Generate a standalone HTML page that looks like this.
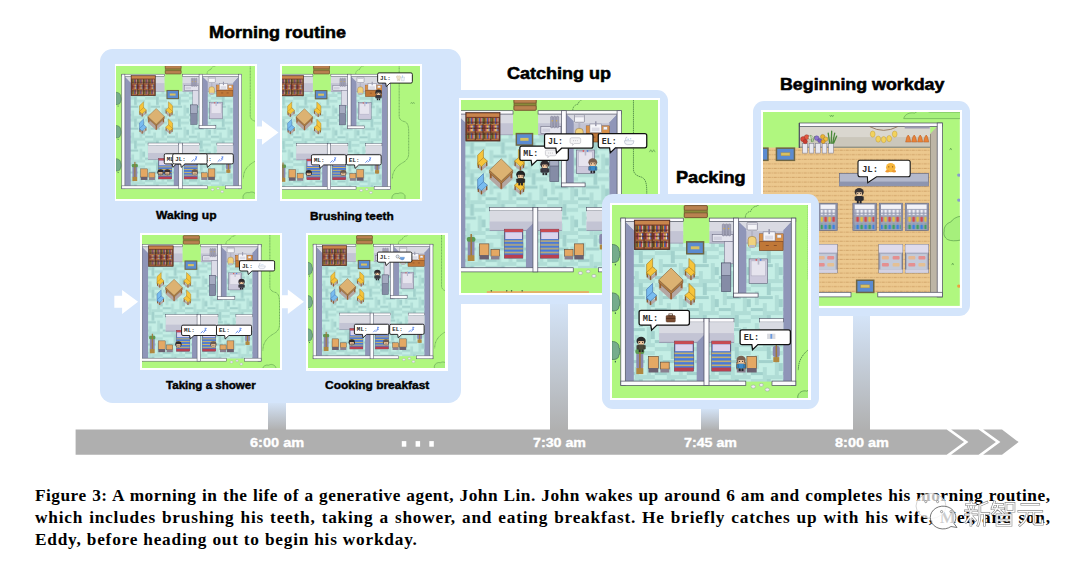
<!DOCTYPE html>
<html><head><meta charset="utf-8"><title>Figure 3</title><style>
*{margin:0;padding:0;box-sizing:border-box}
html,body{width:1080px;height:561px;overflow:hidden;background:#fff}
body{position:relative;font-family:"Liberation Sans",sans-serif}
.ab{position:absolute}
.panel{position:absolute;background:#d4e5fb;border-radius:12px}
.mw{position:absolute;background:#fff}
.mp{position:absolute;display:block}
.t{position:absolute;font-weight:bold;color:#000;white-space:nowrap;line-height:1;transform-origin:0 0;-webkit-text-stroke:0.55px #000}
.s{-webkit-text-stroke:0.4px #000}
.tl{position:absolute;font-weight:bold;color:#fff;white-space:nowrap;line-height:1;font-size:13.5px;transform-origin:0 0;-webkit-text-stroke:0.35px #fff}
.con{position:absolute;background:linear-gradient(#d4e4f8,#b0b0b0)}
.cap{position:absolute;left:35px;width:1015px;font-family:"Liberation Serif",serif;font-weight:bold;font-size:17.3px;letter-spacing:0.78px;line-height:1;white-space:nowrap;color:#000}
.j{text-align:justify;text-align-last:justify;white-space:normal}
</style></head>
<body>
<svg width="0" height="0" style="position:absolute">
<defs>
<pattern id="fl" width="32" height="32" patternUnits="userSpaceOnUse" x="2" y="1">
<rect width="32" height="32" fill="#c4eee5"/>
<rect x="0" y="0" width="16" height="4" fill="#b0ddd6"/>
<rect x="16" y="0" width="4" height="12" fill="#a2d1cc"/>
<rect x="20" y="4" width="12" height="4" fill="#b0ddd6"/>
<rect x="4" y="8" width="4" height="14" fill="#b0ddd6"/>
<rect x="8" y="13" width="14" height="3" fill="#a2d1cc"/>
<rect x="24" y="12" width="4" height="16" fill="#b0ddd6"/>
<rect x="0" y="25" width="12" height="3" fill="#a2d1cc"/>
<rect x="12" y="20" width="4" height="12" fill="#b0ddd6"/>
<rect x="16" y="28" width="16" height="4" fill="#b0ddd6"/>
<rect x="28" y="16" width="4" height="8" fill="#a2d1cc"/>
</pattern>
<pattern id="bk" width="8.3" height="6" patternUnits="userSpaceOnUse">
<rect width="8.3" height="6" fill="#5a2c22"/>
<rect x="0.6" y="0.6" width="1.3" height="5" fill="#e0a030"/>
<rect x="2" y="0.6" width="1.3" height="5" fill="#3a62c8"/>
<rect x="3.4" y="1.2" width="1.3" height="4.4" fill="#d04848"/>
<rect x="4.8" y="0.6" width="1.3" height="5" fill="#e8d8c0"/>
<rect x="6.2" y="1" width="1.3" height="4.6" fill="#6aa848"/>
</pattern>
<pattern id="bk2" width="8.3" height="6" patternUnits="userSpaceOnUse">
<rect width="8.3" height="6" fill="#5a2c22"/>
<rect x="0.6" y="0.6" width="1.3" height="5" fill="#e0709a"/>
<rect x="2" y="1" width="1.3" height="4.6" fill="#f0c040"/>
<rect x="3.4" y="0.6" width="1.3" height="5" fill="#f0e0d0"/>
<rect x="4.8" y="1.2" width="1.3" height="4.4" fill="#3a62c8"/>
<rect x="6.2" y="0.6" width="1.3" height="5" fill="#d06030"/>
</pattern>
<pattern id="bs" width="19" height="4" patternUnits="userSpaceOnUse">
<rect width="19" height="4" fill="#4a7ad8"/>
<rect y="2.6" width="19" height="1.2" fill="#e8c050"/>
</pattern>
<pattern id="wd" width="6" height="4.55" patternUnits="userSpaceOnUse" x="0" y="0.5">
<rect width="6" height="4.55" fill="#ecc88e"/>
<rect y="3.5" width="3.2" height="1" fill="#d2a56a"/>
<rect x="4" y="3.5" width="1.2" height="1" fill="#d2a56a"/>
</pattern>
<pattern id="sh0" width="4" height="5.2" patternUnits="userSpaceOnUse">
<rect width="4" height="5.2" fill="#9ca0b6"/>
<rect x="0.6" y="0.6" width="2.6" height="4.2" rx="1" fill="#eeeef4"/>
</pattern>
<pattern id="sh" width="8" height="6" patternUnits="userSpaceOnUse">
<rect width="8" height="6" fill="#9ca0b6"/>
<rect x="0.6" y="0.8" width="2.6" height="5" rx="0.8" fill="#d84848"/>
<rect x="4.6" y="0.8" width="2.6" height="5" rx="0.8" fill="#e2c040"/>
</pattern>
<pattern id="sh2" width="8" height="5.6" patternUnits="userSpaceOnUse">
<rect width="8" height="5.6" fill="#9ca0b6"/>
<rect x="0.6" y="0.8" width="2.6" height="4.6" rx="0.8" fill="#3a80e0"/>
<rect x="4.6" y="0.8" width="2.6" height="4.6" rx="0.8" fill="#40a060"/>
</pattern>
<g id="outside"><path d="M-9,26.299999999999997 C-4,26.299999999999997 -1.5,29.299999999999997 -1.8,32.3 C-0.5,34.3 -0.5,38.3 -2,40.3 C-2,43.3 -5,44.8 -9,44.3Z" fill="#76ac8c" stroke="#3d6a50" stroke-width="0.7"/>
<rect x="-6" y="45.8" width="1.2" height="1.5" fill="#3d6a50"/>
<path d="M-9,74.8 C-4,74.8 -1.5,77.8 -1.8,80.8 C-0.5,82.8 -0.5,86.8 -2,88.8 C-2,91.8 -5,93.3 -9,92.8Z" fill="#76ac8c" stroke="#3d6a50" stroke-width="0.7"/>
<rect x="-6" y="94.3" width="1.2" height="1.5" fill="#3d6a50"/>
<path d="M-9,123.30000000000001 C-4,123.30000000000001 -1.5,126.30000000000001 -1.8,129.3 C-0.5,131.3 -0.5,135.3 -2,137.3 C-2,140.3 -5,141.8 -9,141.3Z" fill="#76ac8c" stroke="#3d6a50" stroke-width="0.7"/>
<rect x="-6" y="142.8" width="1.2" height="1.5" fill="#3d6a50"/>
<path d="M187.5,-20 L187.5,61 C187.5,66 192,68 196,69 C200.5,71 201.3,76 201.3,85 L201.3,115 C201.3,122 197,126 193,128 C188,131 184,134 181,139 C178.5,143 177.8,146 177.5,152" fill="none" stroke="#4f8a48" stroke-width="0.9" stroke-dasharray="1.6,0.6"/>
<path d="M177,178 C178,174 182,172 186,173 C189,171 194,172 196,176 L196,190 L177,190Z" fill="#a6f07c" stroke="#4f8a48" stroke-width="0.7"/>
<path d="M-9,190 L-4,183 L1,190Z" fill="#a6f07c" stroke="#4f8a48" stroke-width="0.6"/>
<path d="M204,43 l1.5,-2.5 l1.5,2.5 M207,43 l1.5,-2.5 l1.5,2.5" fill="none" stroke="#4f8a48" stroke-width="0.6"/>
<path d="M124.5,-0.5 C124.5,-4 127,-6.5 130,-6.8 C130.8,-10 133.5,-12 136.5,-12 C138,-14 141,-15 144,-14.8 L144,-30" fill="none" stroke="#4f8a48" stroke-width="0.8" stroke-dasharray="1.4,0.6"/></g>
<g id="house"><rect x="4.5" y="3.5" width="166" height="160" fill="url(#fl)"/>
<rect x="4.5" y="3.5" width="58.0" height="21.5" fill="#d9dae2"/>
<rect x="4.5" y="13" width="58.0" height="12" fill="#c3c4d4"/>
<rect x="4.5" y="24.6" width="58.0" height="0.8" fill="#9a9cb2"/>
<rect x="88.5" y="3.5" width="24.299999999999997" height="21.5" fill="#d9dae2"/>
<rect x="88.5" y="13" width="24.299999999999997" height="12" fill="#c3c4d4"/>
<rect x="88.5" y="24.6" width="24.299999999999997" height="0.8" fill="#9a9cb2"/>
<rect x="117.7" y="3.5" width="52.8" height="21.5" fill="#d9dae2"/>
<rect x="117.7" y="13" width="52.8" height="12" fill="#c3c4d4"/>
<rect x="117.7" y="24.6" width="52.8" height="0.8" fill="#9a9cb2"/>
<rect x="62.5" y="-1" width="26" height="26" fill="#b0f77f"/>
<rect x="63.5" y="-12.5" width="23" height="12" rx="1" fill="#8a8a3a" stroke="#6a4a2a" stroke-width="0.7"/>
<rect x="63.5" y="-12.5" width="23" height="4.6" rx="1" fill="#b98250" stroke="#6a4a2a" stroke-width="0.6"/>
<rect x="63.5" y="-5.2" width="23" height="4.7" rx="1" fill="#b98250" stroke="#6a4a2a" stroke-width="0.6"/>
<rect x="65.2" y="23" width="18.3" height="13.4" fill="#6d6544"/>
<rect x="66.7" y="24.5" width="15.3" height="10.4" fill="#5b8bd0"/>
<rect x="70" y="28.2" width="8.6" height="3" fill="#d8c060"/>
<polygon points="4.5,3.5 13,12 13,163 4.5,163" fill="#8f95b8"/>
<polygon points="4.5,3.5 13,3.5 13,12" fill="#d9dae2"/>
<polygon points="170.5,3.5 162.5,12 162.5,163 170.5,163" fill="#8f95b8"/>
<polygon points="170.5,3.5 162.5,3.5 162.5,12" fill="#d9dae2"/>
<polygon points="117.7,3.5 125.5,11 125.5,75 117.7,75" fill="#8f95b8"/>
<rect x="38.3" y="100.5" width="44.900000000000006" height="3.5" fill="#fbfbfd" stroke="#4a4a5e" stroke-width="0.6"/>
<rect x="38.3" y="104" width="44.900000000000006" height="20.3" fill="#d9dae2"/>
<rect x="38.3" y="115" width="44.900000000000006" height="9.3" fill="#c3c4d4"/>
<rect x="38.3" y="123.8" width="44.900000000000006" height="0.8" fill="#8a8ca4"/>
<rect x="88.2" y="100.5" width="25.0" height="3.5" fill="#fbfbfd" stroke="#4a4a5e" stroke-width="0.6"/>
<rect x="88.2" y="104" width="25.0" height="20.3" fill="#d9dae2"/>
<rect x="88.2" y="115" width="25.0" height="9.3" fill="#c3c4d4"/>
<rect x="88.2" y="123.8" width="25.0" height="0.8" fill="#8a8ca4"/>
<rect x="138.8" y="100.5" width="23.69999999999999" height="3.5" fill="#fbfbfd" stroke="#4a4a5e" stroke-width="0.6"/>
<rect x="138.8" y="104" width="23.69999999999999" height="20.3" fill="#d9dae2"/>
<rect x="138.8" y="115" width="23.69999999999999" height="9.3" fill="#c3c4d4"/>
<rect x="138.8" y="123.8" width="23.69999999999999" height="0.8" fill="#8a8ca4"/>
<polygon points="75.9,124.3 83.2,117 83.2,163 75.9,163" fill="#8f95b8"/>
<rect x="0" y="0" width="62.5" height="3.5" fill="#fbfbfd" stroke="#4a4a5e" stroke-width="0.7"/>
<rect x="88.5" y="0" width="86.5" height="3.5" fill="#fbfbfd" stroke="#4a4a5e" stroke-width="0.7"/>
<rect x="0" y="0" width="4.5" height="167.3" fill="#fbfbfd" stroke="#4a4a5e" stroke-width="0.7"/>
<rect x="170.5" y="0" width="4.5" height="167.3" fill="#fbfbfd" stroke="#4a4a5e" stroke-width="0.7"/>
<rect x="0" y="163" width="125" height="4.3" fill="#fbfbfd" stroke="#4a4a5e" stroke-width="0.7"/>
<rect x="151.2" y="163" width="23.8" height="4.3" fill="#fbfbfd" stroke="#4a4a5e" stroke-width="0.7"/>
<rect x="112.8" y="0" width="4.9" height="79" fill="#fbfbfd" stroke="#4a4a5e" stroke-width="0.7"/>
<rect x="112.8" y="75" width="24.5" height="4" fill="#fbfbfd" stroke="#4a4a5e" stroke-width="0.7"/>
<rect x="83.2" y="100.5" width="5" height="66.8" fill="#fbfbfd" stroke="#4a4a5e" stroke-width="0.7"/>
<rect x="13.5" y="2" width="35.5" height="29.5" fill="#7a3e2c" stroke="#3e2218" stroke-width="0.7"/>
<rect x="14.3" y="2.8" width="34" height="3.6" fill="#c9854c"/>
<rect x="15" y="7.6" width="32.5" height="6.2" fill="url(#bk)"/>
<rect x="15" y="13.8" width="32.5" height="1" fill="#b87a48"/>
<rect x="15" y="15.3" width="32.5" height="6.2" fill="url(#bk2)"/>
<rect x="15" y="21.5" width="32.5" height="1" fill="#b87a48"/>
<rect x="15" y="23" width="32.5" height="6.2" fill="url(#bk)"/>
<rect x="15" y="29.2" width="32.5" height="1" fill="#b87a48"/>
<rect x="22.8" y="7" width="0.9" height="23.5" fill="#4a2218"/>
<rect x="30.9" y="7" width="0.9" height="23.5" fill="#4a2218"/>
<rect x="39" y="7" width="0.9" height="23.5" fill="#4a2218"/>
<rect x="91.4" y="16.4" width="20.8" height="7.1" fill="#e4e4ee" stroke="#6a6a80" stroke-width="0.6"/>
<rect x="93" y="18.5" width="8" height="3.5" fill="#d0d0de"/>
<rect x="101.5" y="5.8" width="2.4" height="12" rx="1" fill="#a4a4b8" stroke="#6a6a80" stroke-width="0.4"/>
<rect x="104.5" y="5.8" width="2.4" height="12" rx="1" fill="#a4a4b8" stroke="#6a6a80" stroke-width="0.4"/>
<rect x="107.5" y="5.8" width="2.4" height="12" rx="1" fill="#a4a4b8" stroke="#6a6a80" stroke-width="0.4"/>
<circle cx="103.3" cy="10.5" r="0.7" fill="#e0b030"/><circle cx="107.8" cy="10.5" r="0.7" fill="#e0b030"/>
<rect x="103.6" y="23.5" width="8.6" height="22.2" fill="#dcdce8" stroke="#7a7a90" stroke-width="0.6"/>
<rect x="100.7" y="44.9" width="9.3" height="28.6" fill="#858ca6" stroke="#4a4e66" stroke-width="0.6"/>
<rect x="100.7" y="44.9" width="9.3" height="12.5" fill="#a6acc2" stroke="#4a4e66" stroke-width="0.5"/>
<rect x="126.3" y="4.3" width="10.3" height="7.7" rx="0.8" fill="#f4f4f8" stroke="#6a6a7e" stroke-width="0.6"/>
<rect x="126.8" y="5.3" width="9.3" height="1.6" fill="#c8c8d4"/>
<rect x="130.3" y="12" width="2" height="6.4" fill="#b4b4c4"/>
<rect x="127.3" y="18.4" width="8" height="10.9" rx="3.2" fill="#f0d27e" stroke="#9a7a40" stroke-width="0.6"/>
<rect x="128.3" y="27" width="6" height="2.6" rx="1" fill="#b8b8c8"/>
<rect x="138.5" y="15.8" width="23.8" height="16.7" fill="#c07838" stroke="#6a3c20" stroke-width="0.6"/>
<rect x="138.5" y="15.8" width="23.8" height="7.5" fill="#d89048"/>
<rect x="138.5" y="23.1" width="23.8" height="0.7" fill="#7a4626"/>
<rect x="145" y="27" width="3" height="0.8" fill="#7a4626"/><rect x="153" y="27" width="3" height="0.8" fill="#7a4626"/>
<rect x="142.3" y="13.8" width="12" height="9" fill="#f6f6fa" stroke="#707084" stroke-width="0.5"/>
<rect x="144.3" y="17.5" width="8" height="3.8" fill="#dcdce6"/>
<rect x="147.6" y="11" width="1.6" height="5" fill="#9a9aae"/>
<rect x="156.3" y="16.8" width="4" height="3" fill="#f4f4f8" stroke="#8a8a9a" stroke-width="0.3"/>
<rect x="128.3" y="40.8" width="18.6" height="24.4" fill="#ccc9dc" stroke="#5e5e76" stroke-width="0.6"/>
<rect x="130.3" y="42.8" width="14.6" height="15" fill="#e6e4ee" stroke="#9a98b0" stroke-width="0.4"/>
<rect x="136.9" y="39.5" width="1.6" height="7" fill="#b8b8c8"/>
<rect x="134.8" y="41" width="1.5" height="1.6" fill="#e05050"/><rect x="139.1" y="41" width="1.5" height="1.6" fill="#4a80e0"/>
<polygon points="38,64 50.3,75.5 62.1,64 62.1,71 50.3,82 38,71" fill="#b4a6a2"/>
<rect x="38.6" y="62" width="1.8" height="8" fill="#9a6030"/><rect x="59.8" y="62" width="1.8" height="8" fill="#9a6030"/><rect x="49.4" y="73" width="1.8" height="8" fill="#9a6030"/>
<polygon points="38,61.8 50.3,73 62.1,61.8 62.1,64.6 50.3,75.8 38,64.6" fill="#b07a44" stroke="#6a4a2a" stroke-width="0.5"/>
<polygon points="50.3,50 62.1,61.8 50.3,73 38,61.8" fill="#dcb272" stroke="#8a6030" stroke-width="0.6"/>
<g transform="translate(25.3,39.8) scale(1,1)"><polygon points="0.5,15 4.3,19 10.7,14 10.7,17.5 4.3,22.5 0.5,19" fill="#b4a8a8"/><rect x="0.6" y="14" width="1.3" height="5.5" fill="#8a5a2a"/><rect x="3.8" y="17" width="1.3" height="5" fill="#8a5a2a"/><rect x="9.2" y="12.5" width="1.3" height="5" fill="#8a5a2a"/><polygon points="0.5,6.4 6.5,0.5 6.5,11.8 0.5,17" fill="#f6c43a" stroke="#a07820" stroke-width="0.6"/><polygon points="0.5,14.5 6.5,9 10.7,12.5 4.3,18.3" fill="#f6c43a" stroke="#a07820" stroke-width="0.6"/></g>
<g transform="translate(74.6,39.8) scale(-1,1)"><polygon points="0.5,15 4.3,19 10.7,14 10.7,17.5 4.3,22.5 0.5,19" fill="#b4a8a8"/><rect x="0.6" y="14" width="1.3" height="5.5" fill="#8a5a2a"/><rect x="3.8" y="17" width="1.3" height="5" fill="#8a5a2a"/><rect x="9.2" y="12.5" width="1.3" height="5" fill="#8a5a2a"/><polygon points="0.5,6.4 6.5,0.5 6.5,11.8 0.5,17" fill="#f6c43a" stroke="#a07820" stroke-width="0.6"/><polygon points="0.5,14.5 6.5,9 10.7,12.5 4.3,18.3" fill="#f6c43a" stroke="#a07820" stroke-width="0.6"/></g>
<g transform="translate(25.3,64.8) scale(1,1)"><polygon points="0.5,15 4.3,19 10.7,14 10.7,17.5 4.3,22.5 0.5,19" fill="#b4a8a8"/><rect x="0.6" y="14" width="1.3" height="5.5" fill="#8a5a2a"/><rect x="3.8" y="17" width="1.3" height="5" fill="#8a5a2a"/><rect x="9.2" y="12.5" width="1.3" height="5" fill="#8a5a2a"/><polygon points="0.5,6.4 6.5,0.5 6.5,11.8 0.5,17" fill="#78bcf0" stroke="#3a6aa8" stroke-width="0.6"/><polygon points="0.5,14.5 6.5,9 10.7,12.5 4.3,18.3" fill="#78bcf0" stroke="#3a6aa8" stroke-width="0.6"/></g>
<g transform="translate(74.6,64.8) scale(-1,1)"><polygon points="0.5,15 4.3,19 10.7,14 10.7,17.5 4.3,22.5 0.5,19" fill="#b4a8a8"/><rect x="0.6" y="14" width="1.3" height="5.5" fill="#8a5a2a"/><rect x="3.8" y="17" width="1.3" height="5" fill="#8a5a2a"/><rect x="9.2" y="12.5" width="1.3" height="5" fill="#8a5a2a"/><polygon points="0.5,6.4 6.5,0.5 6.5,11.8 0.5,17" fill="#f6c43a" stroke="#a07820" stroke-width="0.6"/><polygon points="0.5,14.5 6.5,9 10.7,12.5 4.3,18.3" fill="#f6c43a" stroke="#a07820" stroke-width="0.6"/></g>
<rect x="15.5" y="133" width="7" height="18" rx="2" fill="#8a88ae"/><rect x="14.5" y="131" width="9" height="5" rx="2" fill="#5c9a52"/><rect x="18.3" y="128" width="1.6" height="26" fill="#a07838"/><rect x="15.5" y="150" width="7" height="6" fill="#b08840"/>
<rect x="27.7" y="138.2" width="9.8" height="12" fill="#e4a864" stroke="#5a4030" stroke-width="0.6"/><rect x="27.7" y="150" width="9.8" height="4.4" fill="#6a6070"/>
<rect x="126.1" y="138.2" width="9.8" height="12" fill="#e4a864" stroke="#5a4030" stroke-width="0.6"/><rect x="126.1" y="150" width="9.8" height="4.4" fill="#6a6070"/>
<rect x="39.6" y="144" width="8.8" height="7" fill="#e4a864" stroke="#5a4030" stroke-width="0.6"/><rect x="39.6" y="151" width="8.8" height="3.4" fill="#8a8090"/>
<rect x="116" y="144" width="8.8" height="7" fill="#e4a864" stroke="#5a4030" stroke-width="0.6"/><rect x="116" y="151" width="8.8" height="3.4" fill="#8a8090"/>
<rect x="53.7" y="123" width="19" height="30" fill="#4a70c8" stroke="#5a3040" stroke-width="0.6"/>
<rect x="53.7" y="123" width="19" height="3.2" fill="#c84a52"/>
<rect x="54.5" y="126.2" width="17.4" height="7" fill="#dcd4ec"/>
<rect x="53.7" y="133.5" width="19" height="16" fill="url(#bs)"/>
<rect x="53.7" y="149.5" width="19" height="3.5" fill="#b84050"/>
<rect x="91" y="123" width="19" height="30" fill="#4a70c8" stroke="#5a3040" stroke-width="0.6"/>
<rect x="91" y="123" width="19" height="3.2" fill="#c84a52"/>
<rect x="91.8" y="126.2" width="17.4" height="7" fill="#dcd4ec"/>
<rect x="91" y="133.5" width="19" height="16" fill="url(#bs)"/>
<rect x="91" y="149.5" width="19" height="3.5" fill="#b84050"/>
<rect x="152" y="128" width="7" height="11" rx="2" fill="#8a88ae"/><rect x="154.8" y="127" width="1.5" height="17" fill="#a07838"/><rect x="152.5" y="139" width="6" height="5" fill="#b08840"/>
<ellipse cx="132.5" cy="168.5" rx="2.2" ry="1.6" fill="#eeeef2" stroke="#9a9aa8" stroke-width="0.5"/>
<ellipse cx="140.5" cy="166.8" rx="2" ry="1.5" fill="#eeeef2" stroke="#9a9aa8" stroke-width="0.5"/>
<ellipse cx="146.5" cy="171.5" rx="2.2" ry="1.6" fill="#eeeef2" stroke="#9a9aa8" stroke-width="0.5"/></g>
</defs></svg>
<div class="con" style="left:268.2px;top:401.9px;width:17.4px;height:28px"></div>
<div class="con" style="left:550px;top:303px;width:17.9px;height:127px"></div>
<div class="con" style="left:701.1px;top:407.7px;width:18.2px;height:22.3px"></div>
<div class="con" style="left:852.9px;top:315px;width:17.5px;height:115px"></div>
<div class="panel" style="left:100.4px;top:49px;width:360.6px;height:353.9px;border-radius:12.5px"></div>
<div class="panel" style="left:448px;top:89.5px;width:219.7px;height:214.5px;border-radius:11px"></div>
<svg class="ab" style="left:0;top:0" width="470" height="400"><polygon points="255.3,126.5 262,126.5 262,120.2 278.5,132.4 262,144.7 262,139 255.3,139" fill="#fff"/><polygon points="114.3,295.7 122.1,295.7 122.1,290 138.1,301.8 122.1,313.9 122.1,307.8 114.3,307.8" fill="#fff"/><polygon points="280.3,295.3 287.8,295.3 287.8,289.6 303.9,301.8 287.8,313.9 287.8,308.2 280.3,308.2" fill="#fff"/></svg>
<div class="mw" style="left:114.5px;top:64.1px;width:142.1px;height:136.9px"></div>
<svg class="mp" style="left:116.4px;top:66.1px" width="138.30" height="132.90" viewBox="-8.47 -11.97 201.90 194.01" preserveAspectRatio="none">
<rect x="-13.47" y="-16.97" width="211.90" height="204.01" fill="#b0f77f"/>
<use href="#outside"/><use href="#house"/>
<g transform="translate(52,139)"><ellipse cx="4.5" cy="4.2" rx="4.6" ry="4.3" fill="#2e2a2e"/><rect x="1.6" y="3.4" width="5.8" height="4.2" rx="1" fill="#f0c8a0"/><rect x="1.4" y="1.6" width="6.2" height="2.2" fill="#2e2a2e"/><rect x="2.6" y="5" width="3.8" height="0.8" fill="#6a5040"/></g>
<g transform="translate(62,139)"><ellipse cx="4.5" cy="4.2" rx="4.6" ry="4.3" fill="#3a3030"/><rect x="1.6" y="3.4" width="5.8" height="4.2" rx="1" fill="#f0c8a0"/><rect x="1.4" y="1.6" width="6.2" height="2.2" fill="#3a3030"/><rect x="2.6" y="5" width="3.8" height="0.8" fill="#6a5040"/></g>
<g transform="translate(102,139)"><ellipse cx="4.5" cy="4.2" rx="4.6" ry="4.3" fill="#6a5a50"/><rect x="1.6" y="3.4" width="5.8" height="4.2" rx="1" fill="#f0c8a0"/><rect x="1.4" y="1.6" width="6.2" height="2.2" fill="#6a5a50"/><rect x="2.6" y="5" width="3.8" height="0.8" fill="#6a5040"/></g>
<g transform="translate(62,116.2)"><path d="M2,0 H48.3 Q50.3,0 50.3,2 V12.8 Q50.3,14.8 48.3,14.8 H17.8 L12.5,19.8 L11.7,14.8 H2 Q0,14.8 0,12.8 V2 Q0,0 2,0Z" fill="#fff" stroke="#111" stroke-width="1.3"/><text x="3.6" y="10.5" font-family="Liberation Mono" font-weight="bold" font-size="8.6" fill="#2a2a2a">ML:</text><path d="M27.5,11.5 l3.5,-3.5 M31,11 l3,-3 M33,4.5 h2.5 l-2.5,3 h2.5" stroke="#4a7ae8" stroke-width="1.2" fill="none"/></g>
<g transform="translate(112.5,116.2)"><path d="M2,0 H48.3 Q50.3,0 50.3,2 V12.8 Q50.3,14.8 48.3,14.8 H17.8 L12.5,19.8 L11.7,14.8 H2 Q0,14.8 0,12.8 V2 Q0,0 2,0Z" fill="#fff" stroke="#111" stroke-width="1.3"/><text x="3.6" y="10.5" font-family="Liberation Mono" font-weight="bold" font-size="8.6" fill="#2a2a2a">EL:</text><path d="M27.5,11.5 l3.5,-3.5 M31,11 l3,-3 M33,4.5 h2.5 l-2.5,3 h2.5" stroke="#4a7ae8" stroke-width="1.2" fill="none"/></g>
<g transform="translate(74.3,116.2)"><path d="M2,0 H48.3 Q50.3,0 50.3,2 V12.8 Q50.3,14.8 48.3,14.8 H17.8 L12.5,19.8 L11.7,14.8 H2 Q0,14.8 0,12.8 V2 Q0,0 2,0Z" fill="#fff" stroke="#111" stroke-width="1.3"/><text x="3.6" y="10.5" font-family="Liberation Mono" font-weight="bold" font-size="8.6" fill="#2a2a2a">JL:</text><path d="M27.5,11.5 l3.5,-3.5 M31,11 l3,-3 M33,4.5 h2.5 l-2.5,3 h2.5" stroke="#4a7ae8" stroke-width="1.2" fill="none"/></g>
</svg>
<div class="mw" style="left:280.1px;top:64.0px;width:141.6px;height:137.0px"></div>
<svg class="mp" style="left:282.0px;top:66.0px" width="137.80" height="133.00" viewBox="17.68 -11.88 199.71 192.75" preserveAspectRatio="none">
<rect x="12.68" y="-16.88" width="209.71" height="202.75" fill="#b0f77f"/>
<use href="#outside"/><use href="#house"/>
<g transform="translate(52,139)"><ellipse cx="4.5" cy="4.2" rx="4.6" ry="4.3" fill="#2e2a2e"/><rect x="1.6" y="3.4" width="5.8" height="4.2" rx="1" fill="#f0c8a0"/><rect x="1.4" y="1.6" width="6.2" height="2.2" fill="#2e2a2e"/><rect x="2.6" y="5" width="3.8" height="0.8" fill="#6a5040"/></g>
<g transform="translate(102,139)"><ellipse cx="4.5" cy="4.2" rx="4.6" ry="4.3" fill="#6a5a50"/><rect x="1.6" y="3.4" width="5.8" height="4.2" rx="1" fill="#f0c8a0"/><rect x="1.4" y="1.6" width="6.2" height="2.2" fill="#6a5a50"/><rect x="2.6" y="5" width="3.8" height="0.8" fill="#6a5040"/></g>
<g transform="translate(152.5,22.5) scale(1.0)"><ellipse cx="5" cy="4" rx="4.6" ry="4.2" fill="#2e2a2e"/><rect x="2.2" y="3.6" width="5.6" height="4.2" rx="1" fill="#f0c8a0"/><rect x="1.8" y="1.8" width="6.4" height="2.4" fill="#2e2a2e"/><rect x="3" y="5" width="1" height="1" fill="#2a2020"/><rect x="6" y="5" width="1" height="1" fill="#2a2020"/><rect x="1.6" y="7.8" width="6.8" height="5" rx="1" fill="#3a3a44"/><rect x="0.6" y="8.3" width="1.6" height="4" rx="0.6" fill="#3a3a44" stroke="#222" stroke-width="0.3"/><rect x="7.8" y="8.3" width="1.6" height="4" rx="0.6" fill="#3a3a44" stroke="#222" stroke-width="0.3"/><rect x="2.6" y="12.6" width="2" height="2.6" fill="#26262c"/><rect x="5.4" y="12.6" width="2" height="2.6" fill="#26262c"/></g>
<g transform="translate(60.3,116.7)"><path d="M2,0 H48.3 Q50.3,0 50.3,2 V12.8 Q50.3,14.8 48.3,14.8 H17.8 L12.5,19.8 L11.7,14.8 H2 Q0,14.8 0,12.8 V2 Q0,0 2,0Z" fill="#fff" stroke="#111" stroke-width="1.3"/><text x="3.6" y="10.5" font-family="Liberation Mono" font-weight="bold" font-size="8.6" fill="#2a2a2a">ML:</text><path d="M27.5,11.5 l3.5,-3.5 M31,11 l3,-3 M33,4.5 h2.5 l-2.5,3 h2.5" stroke="#4a7ae8" stroke-width="1.2" fill="none"/></g>
<g transform="translate(111.1,116.7)"><path d="M2,0 H48.3 Q50.3,0 50.3,2 V12.8 Q50.3,14.8 48.3,14.8 H17.8 L12.5,19.8 L11.7,14.8 H2 Q0,14.8 0,12.8 V2 Q0,0 2,0Z" fill="#fff" stroke="#111" stroke-width="1.3"/><text x="3.6" y="10.5" font-family="Liberation Mono" font-weight="bold" font-size="8.6" fill="#2a2a2a">EL:</text><path d="M27.5,11.5 l3.5,-3.5 M31,11 l3,-3 M33,4.5 h2.5 l-2.5,3 h2.5" stroke="#4a7ae8" stroke-width="1.2" fill="none"/></g>
<g transform="translate(156.3,-1.9)"><path d="M2,0 H48.3 Q50.3,0 50.3,2 V12.8 Q50.3,14.8 48.3,14.8 H17.8 L12.5,19.8 L11.7,14.8 H2 Q0,14.8 0,12.8 V2 Q0,0 2,0Z" fill="#fff" stroke="#111" stroke-width="1.3"/><text x="3.6" y="10.5" font-family="Liberation Mono" font-weight="bold" font-size="8.6" fill="#2a2a2a">JL:</text><path d="M27.5,4.5 Q29,3.5 30.5,4.5 Q32,3.5 33,4.8 Q33.6,7 32.5,8.5 L32,11.5 L31,11.5 L30.5,9 L29.8,11.5 L28.8,11.5 L28.4,8.5 Q27,7 27.5,4.5Z" fill="#eee2c8" stroke="#b8a888" stroke-width="0.4"/><path d="M34,6 H39 L38.4,11.5 H34.6Z" fill="#eef4fa" stroke="#9aaabb" stroke-width="0.4"/><rect x="35.5" y="3.5" width="0.8" height="3.5" fill="#8ab4e0"/></g>
</svg>
<div class="mw" style="left:140.1px;top:233.3px;width:141.8px;height:137.0px"></div>
<svg class="mp" style="left:141.9px;top:235.1px" width="138.00" height="132.80" viewBox="4.30 -13.47 197.71 190.26" preserveAspectRatio="none">
<rect x="-0.70" y="-18.47" width="207.71" height="200.26" fill="#b0f77f"/>
<use href="#outside"/><use href="#house"/>
<g transform="translate(52,139)"><ellipse cx="4.5" cy="4.2" rx="4.6" ry="4.3" fill="#2e2a2e"/><rect x="1.6" y="3.4" width="5.8" height="4.2" rx="1" fill="#f0c8a0"/><rect x="1.4" y="1.6" width="6.2" height="2.2" fill="#2e2a2e"/><rect x="2.6" y="5" width="3.8" height="0.8" fill="#6a5040"/></g>
<g transform="translate(102,139)"><ellipse cx="4.5" cy="4.2" rx="4.6" ry="4.3" fill="#6a5a50"/><rect x="1.6" y="3.4" width="5.8" height="4.2" rx="1" fill="#f0c8a0"/><rect x="1.4" y="1.6" width="6.2" height="2.2" fill="#6a5a50"/><rect x="2.6" y="5" width="3.8" height="0.8" fill="#6a5040"/></g>
<g transform="translate(142,49.4) scale(1.0)"><ellipse cx="5" cy="4" rx="4.6" ry="4.2" fill="#2e2a2e"/><rect x="2.2" y="3.6" width="5.6" height="4.2" rx="1" fill="#f0c8a0"/><rect x="1.8" y="1.8" width="6.4" height="2.4" fill="#2e2a2e"/><rect x="3" y="5" width="1" height="1" fill="#2a2020"/><rect x="6" y="5" width="1" height="1" fill="#2a2020"/><rect x="1.6" y="7.8" width="6.8" height="5" rx="1" fill="#3a3a44"/><rect x="0.6" y="8.3" width="1.6" height="4" rx="0.6" fill="#3a3a44" stroke="#222" stroke-width="0.3"/><rect x="7.8" y="8.3" width="1.6" height="4" rx="0.6" fill="#3a3a44" stroke="#222" stroke-width="0.3"/><rect x="2.6" y="12.6" width="2" height="2.6" fill="#26262c"/><rect x="5.4" y="12.6" width="2" height="2.6" fill="#26262c"/></g>
<g transform="translate(61,115.7)"><path d="M2,0 H48.3 Q50.3,0 50.3,2 V12.8 Q50.3,14.8 48.3,14.8 H17.8 L12.5,19.8 L11.7,14.8 H2 Q0,14.8 0,12.8 V2 Q0,0 2,0Z" fill="#fff" stroke="#111" stroke-width="1.3"/><text x="3.6" y="10.5" font-family="Liberation Mono" font-weight="bold" font-size="8.6" fill="#2a2a2a">ML:</text><path d="M27.5,11.5 l3.5,-3.5 M31,11 l3,-3 M33,4.5 h2.5 l-2.5,3 h2.5" stroke="#4a7ae8" stroke-width="1.2" fill="none"/></g>
<g transform="translate(111,115.7)"><path d="M2,0 H48.3 Q50.3,0 50.3,2 V12.8 Q50.3,14.8 48.3,14.8 H17.8 L12.5,19.8 L11.7,14.8 H2 Q0,14.8 0,12.8 V2 Q0,0 2,0Z" fill="#fff" stroke="#111" stroke-width="1.3"/><text x="3.6" y="10.5" font-family="Liberation Mono" font-weight="bold" font-size="8.6" fill="#2a2a2a">EL:</text><path d="M27.5,11.5 l3.5,-3.5 M31,11 l3,-3 M33,4.5 h2.5 l-2.5,3 h2.5" stroke="#4a7ae8" stroke-width="1.2" fill="none"/></g>
<g transform="translate(144,23.3)"><path d="M2,0 H48.3 Q50.3,0 50.3,2 V12.8 Q50.3,14.8 48.3,14.8 H17.8 L12.5,19.8 L11.7,14.8 H2 Q0,14.8 0,12.8 V2 Q0,0 2,0Z" fill="#fff" stroke="#111" stroke-width="1.3"/><text x="3.6" y="10.5" font-family="Liberation Mono" font-weight="bold" font-size="8.6" fill="#2a2a2a">JL:</text><path d="M27,7.5 H37 Q37,11.5 34,11.5 H30 Q27,11.5 27,7.5Z" fill="#f4f6fa" stroke="#9aa4b8" stroke-width="0.5"/><path d="M28.5,7.5 V5 Q28.5,3.6 30,3.8" fill="none" stroke="#9aa4b8" stroke-width="0.6"/><circle cx="31" cy="6" r="0.9" fill="#bcd4ee"/><circle cx="33.5" cy="5.5" r="0.8" fill="#bcd4ee"/></g>
</svg>
<div class="mw" style="left:305.8px;top:233.2px;width:141.8px;height:137.5px"></div>
<svg class="mp" style="left:307.9px;top:235.3px" width="137.60" height="133.20" viewBox="-7.45 -13.43 200.88 194.45" preserveAspectRatio="none">
<rect x="-12.45" y="-18.43" width="210.88" height="204.45" fill="#b0f77f"/>
<use href="#outside"/><use href="#house"/>
<g transform="translate(52,139)"><ellipse cx="4.5" cy="4.2" rx="4.6" ry="4.3" fill="#2e2a2e"/><rect x="1.6" y="3.4" width="5.8" height="4.2" rx="1" fill="#f0c8a0"/><rect x="1.4" y="1.6" width="6.2" height="2.2" fill="#2e2a2e"/><rect x="2.6" y="5" width="3.8" height="0.8" fill="#6a5040"/></g>
<g transform="translate(102,139)"><ellipse cx="4.5" cy="4.2" rx="4.6" ry="4.3" fill="#6a5a50"/><rect x="1.6" y="3.4" width="5.8" height="4.2" rx="1" fill="#f0c8a0"/><rect x="1.4" y="1.6" width="6.2" height="2.2" fill="#6a5a50"/><rect x="2.6" y="5" width="3.8" height="0.8" fill="#6a5040"/></g>
<g transform="translate(88.9,37.5) scale(1.0)"><ellipse cx="5" cy="4" rx="4.6" ry="4.2" fill="#2e2a2e"/><rect x="2.2" y="3.6" width="5.6" height="4.2" rx="1" fill="#f0c8a0"/><rect x="1.8" y="1.8" width="6.4" height="2.4" fill="#2e2a2e"/><rect x="3" y="5" width="1" height="1" fill="#2a2020"/><rect x="6" y="5" width="1" height="1" fill="#2a2020"/><rect x="1.6" y="7.8" width="6.8" height="5" rx="1" fill="#3a3a44"/><rect x="0.6" y="8.3" width="1.6" height="4" rx="0.6" fill="#3a3a44" stroke="#222" stroke-width="0.3"/><rect x="7.8" y="8.3" width="1.6" height="4" rx="0.6" fill="#3a3a44" stroke="#222" stroke-width="0.3"/><rect x="2.6" y="12.6" width="2" height="2.6" fill="#26262c"/><rect x="5.4" y="12.6" width="2" height="2.6" fill="#26262c"/></g>
<g transform="translate(60.3,116.9)"><path d="M2,0 H48.3 Q50.3,0 50.3,2 V12.8 Q50.3,14.8 48.3,14.8 H17.8 L12.5,19.8 L11.7,14.8 H2 Q0,14.8 0,12.8 V2 Q0,0 2,0Z" fill="#fff" stroke="#111" stroke-width="1.3"/><text x="3.6" y="10.5" font-family="Liberation Mono" font-weight="bold" font-size="8.6" fill="#2a2a2a">ML:</text><path d="M27.5,11.5 l3.5,-3.5 M31,11 l3,-3 M33,4.5 h2.5 l-2.5,3 h2.5" stroke="#4a7ae8" stroke-width="1.2" fill="none"/></g>
<g transform="translate(111.8,116.9)"><path d="M2,0 H48.3 Q50.3,0 50.3,2 V12.8 Q50.3,14.8 48.3,14.8 H17.8 L12.5,19.8 L11.7,14.8 H2 Q0,14.8 0,12.8 V2 Q0,0 2,0Z" fill="#fff" stroke="#111" stroke-width="1.3"/><text x="3.6" y="10.5" font-family="Liberation Mono" font-weight="bold" font-size="8.6" fill="#2a2a2a">EL:</text><path d="M27.5,11.5 l3.5,-3.5 M31,11 l3,-3 M33,4.5 h2.5 l-2.5,3 h2.5" stroke="#4a7ae8" stroke-width="1.2" fill="none"/></g>
<g transform="translate(93.9,11.5)"><path d="M2,0 H48.3 Q50.3,0 50.3,2 V12.8 Q50.3,14.8 48.3,14.8 H17.8 L12.5,19.8 L11.7,14.8 H2 Q0,14.8 0,12.8 V2 Q0,0 2,0Z" fill="#fff" stroke="#111" stroke-width="1.3"/><text x="3.6" y="10.5" font-family="Liberation Mono" font-weight="bold" font-size="8.6" fill="#2a2a2a">JL:</text><circle cx="29.5" cy="6.5" r="2.3" fill="#dde8f4" stroke="#6a6a70" stroke-width="0.7"/><path d="M31.2,8.2 L33,10.5" stroke="#8a6a3a" stroke-width="1"/><path d="M33,7.5 H39.5 Q39.5,11.5 36.2,11.5 Q33,11.5 33,7.5Z" fill="#6aa0e0" stroke="#3a6ab0" stroke-width="0.4"/></g>
</svg>
<div class="mw" style="left:458.6px;top:98.4px;width:201.5px;height:196.6px"></div>
<svg class="mp" style="left:460.7px;top:100.3px" width="197.30" height="192.60" viewBox="8.51 -11.11 204.77 199.90" preserveAspectRatio="none">
<rect x="3.51" y="-16.11" width="214.77" height="209.90" fill="#b0f77f"/>
<use href="#outside"/><use href="#house"/>
<g transform="translate(90.5,51.7) scale(1.0)"><ellipse cx="5" cy="4" rx="4.6" ry="4.2" fill="#2e2a2e"/><rect x="2.2" y="3.6" width="5.6" height="4.2" rx="1" fill="#f0c8a0"/><rect x="1.8" y="1.8" width="6.4" height="2.4" fill="#2e2a2e"/><rect x="3" y="5" width="1" height="1" fill="#2a2020"/><rect x="6" y="5" width="1" height="1" fill="#2a2020"/><rect x="1.6" y="7.8" width="6.8" height="5" rx="1" fill="#3a3a44"/><rect x="0.6" y="8.3" width="1.6" height="4" rx="0.6" fill="#3a3a44" stroke="#222" stroke-width="0.3"/><rect x="7.8" y="8.3" width="1.6" height="4" rx="0.6" fill="#3a3a44" stroke="#222" stroke-width="0.3"/><rect x="2.6" y="12.6" width="2" height="2.6" fill="#26262c"/><rect x="5.4" y="12.6" width="2" height="2.6" fill="#26262c"/></g>
<g transform="translate(65.4,62.3) scale(1.0)"><ellipse cx="5" cy="4" rx="4.6" ry="4.2" fill="#222"/><rect x="2.2" y="3.6" width="5.6" height="4.2" rx="1" fill="#f0c8a0"/><rect x="1.8" y="1.8" width="6.4" height="2.4" fill="#222"/><rect x="3" y="5" width="1" height="1" fill="#2a2020"/><rect x="6" y="5" width="1" height="1" fill="#2a2020"/><rect x="1.6" y="7.8" width="6.8" height="5" rx="1" fill="#2a2a2a"/><rect x="0.6" y="8.3" width="1.6" height="4" rx="0.6" fill="#2a2a2a" stroke="#222" stroke-width="0.3"/><rect x="7.8" y="8.3" width="1.6" height="4" rx="0.6" fill="#2a2a2a" stroke="#222" stroke-width="0.3"/><rect x="2.6" y="12.6" width="2" height="2.6" fill="#26262c"/><rect x="5.4" y="12.6" width="2" height="2.6" fill="#26262c"/></g>
<g transform="translate(140.3,49.6) scale(1.0)"><ellipse cx="5" cy="4" rx="4.6" ry="4.2" fill="#7a6050"/><rect x="2.2" y="3.6" width="5.6" height="4.2" rx="1" fill="#f0c8a0"/><rect x="1.8" y="1.8" width="6.4" height="2.4" fill="#7a6050"/><rect x="3" y="5" width="1" height="1" fill="#2a2020"/><rect x="6" y="5" width="1" height="1" fill="#2a2020"/><rect x="1.6" y="7.8" width="6.8" height="5" rx="1" fill="#3a8ac8"/><rect x="0.6" y="8.3" width="1.6" height="4" rx="0.6" fill="#3a8ac8" stroke="#222" stroke-width="0.3"/><rect x="7.8" y="8.3" width="1.6" height="4" rx="0.6" fill="#3a8ac8" stroke="#222" stroke-width="0.3"/><rect x="2.6" y="12.6" width="2" height="2.6" fill="#26262c"/><rect x="5.4" y="12.6" width="2" height="2.6" fill="#26262c"/></g>
<rect x="35.3" y="187.4" width="106" height="1.6" fill="#f0a060"/><rect x="-1" y="184.5" width="0.9" height="3" fill="#3a5a3a"/><circle cx="40" cy="187" r="0.8" fill="#4a6a3a"/><circle cx="56" cy="187" r="0.8" fill="#4a6a3a"/><circle cx="61" cy="187" r="0.8" fill="#4a6a3a"/><circle cx="72" cy="187" r="0.8" fill="#4a6a3a"/>
<g transform="translate(69.6,36.8)"><path d="M2,0 H48.3 Q50.3,0 50.3,2 V12.8 Q50.3,14.8 48.3,14.8 H17.8 L12.5,19.8 L11.7,14.8 H2 Q0,14.8 0,12.8 V2 Q0,0 2,0Z" fill="#fff" stroke="#111" stroke-width="1.3"/><text x="3.6" y="10.5" font-family="Liberation Mono" font-weight="bold" font-size="8.6" fill="#2a2a2a">ML:</text><path d="M28,4 H36 Q37.5,4 37.5,5.5 V8.5 Q37.5,10 36,10 H31 L29,12 L29.3,10 H28 Q26.5,10 26.5,8.5 V5.5 Q26.5,4 28,4Z" fill="#f4f4f6" stroke="#a8a8b0" stroke-width="0.5"/><circle cx="30" cy="7" r="0.5" fill="#a0a0a8"/><circle cx="32" cy="7" r="0.5" fill="#a0a0a8"/><circle cx="34" cy="7" r="0.5" fill="#a0a0a8"/></g>
<g transform="translate(95.2,24.1)"><path d="M2,0 H48.3 Q50.3,0 50.3,2 V12.8 Q50.3,14.8 48.3,14.8 H17.8 L12.5,19.8 L11.7,14.8 H2 Q0,14.8 0,12.8 V2 Q0,0 2,0Z" fill="#fff" stroke="#111" stroke-width="1.3"/><text x="3.6" y="10.5" font-family="Liberation Mono" font-weight="bold" font-size="8.6" fill="#2a2a2a">JL:</text><path d="M28,4 H36 Q37.5,4 37.5,5.5 V8.5 Q37.5,10 36,10 H31 L29,12 L29.3,10 H28 Q26.5,10 26.5,8.5 V5.5 Q26.5,4 28,4Z" fill="#f4f4f6" stroke="#a8a8b0" stroke-width="0.5"/><circle cx="30" cy="7" r="0.5" fill="#a0a0a8"/><circle cx="32" cy="7" r="0.5" fill="#a0a0a8"/><circle cx="34" cy="7" r="0.5" fill="#a0a0a8"/></g>
<g transform="translate(151,23.7)"><path d="M2,0 H48.3 Q50.3,0 50.3,2 V12.8 Q50.3,14.8 48.3,14.8 H17.8 L12.5,19.8 L11.7,14.8 H2 Q0,14.8 0,12.8 V2 Q0,0 2,0Z" fill="#fff" stroke="#111" stroke-width="1.3"/><text x="3.6" y="10.5" font-family="Liberation Mono" font-weight="bold" font-size="8.6" fill="#2a2a2a">EL:</text><path d="M27,7.5 H37 Q37,11.5 34,11.5 H30 Q27,11.5 27,7.5Z" fill="#f4f6fa" stroke="#9aa4b8" stroke-width="0.5"/><path d="M28.5,7.5 V5 Q28.5,3.6 30,3.8" fill="none" stroke="#9aa4b8" stroke-width="0.6"/><circle cx="31" cy="6" r="0.9" fill="#bcd4ee"/><circle cx="33.5" cy="5.5" r="0.8" fill="#bcd4ee"/></g>
</svg>
<div class="panel" style="left:753px;top:101.4px;width:217.3px;height:214.7px;border-radius:11px"></div>
<div class="mw" style="left:761px;top:109.7px;width:201.1px;height:198.1px"></div>
<svg class="mp" style="left:763.3px;top:111.9px" width="196.8" height="193.9" viewBox="763.3 111.9 196.8 193.9">
<rect x="763.3" y="111.9" width="196.80000000000007" height="193.9" fill="#b0f77f"/>
<path d="M961,216 C956,217 953,219 951,222 C947,223 944,227 944.5,231 C943.5,234 945,238 948,239.5 C951,241 956,241 961,240Z" fill="#a6f07c" stroke="#4e8e44" stroke-width="0.6"/>
<path d="M904,118.5 C905,114 910,112 915,113 C918,110 925,110 930,112 L961,112 L961,118.5Z" fill="#a6f07c" stroke="#4e8e44" stroke-width="0.5"/>
<path d="M950,150 l1,-2 l1,2 M952,265 l1,-2 l1,2" stroke="#4e8e44" stroke-width="0.6" fill="none"/>
<circle cx="959" cy="175" r="1.6" fill="#8a9ad0"/><circle cx="959" cy="200" r="1.6" fill="#8a9ad0"/><circle cx="959" cy="286" r="1.6" fill="#f0a040"/>
<rect x="762" y="147.5" width="176" height="145" fill="url(#wd)"/>
<rect x="799.6" y="126.4" width="131" height="21" fill="#dad7cf"/>
<rect x="799.6" y="137" width="131" height="10.4" fill="#cbc7bb"/>
<rect x="799.6" y="146.6" width="131" height="1" fill="#7e7a6e"/>
<rect x="799.6" y="122.9" width="143" height="3.5" fill="#fbfbfd" stroke="#4a4a5e" stroke-width="0.7"/>
<rect x="799" y="122.9" width="1.2" height="25" fill="#4a4a5e"/>
<polygon points="937.5,126.4 930.3,134 930.3,292.5 937.5,292.5" fill="#bdb5a5"/>
<rect x="930.3" y="134" width="0.9" height="158.5" fill="#8e8676"/>
<rect x="937.5" y="122.9" width="5.2" height="174" fill="#fbfbfd" stroke="#4a4a5e" stroke-width="0.7"/>
<rect x="760" y="292.2" width="91.3" height="4.6" fill="#fbfbfd" stroke="#4a4a5e" stroke-width="0.7"/>
<rect x="878.1" y="292.2" width="64.6" height="4.6" fill="#fbfbfd" stroke="#4a4a5e" stroke-width="0.7"/>
<rect x="776" y="147.3" width="19.5" height="13.7" fill="#6d6544"/><rect x="777.5" y="148.8" width="16.5" height="10.7" fill="#5b8bd0"/><rect x="781.25" y="152.65" width="9" height="3" fill="#d8c060" stroke="#b09040" stroke-width="0.4"/>
<rect x="760" y="147.3" width="9" height="13.7" fill="#6d6544"/><rect x="760" y="148.8" width="7.5" height="10.7" fill="#5b8bd0"/>
<rect x="856.2" y="279.4" width="18.6" height="13.7" fill="#6d6544"/><rect x="857.7" y="280.9" width="15.600000000000001" height="10.7" fill="#5b8bd0"/><rect x="861.0" y="284.75" width="9" height="3" fill="#d8c060" stroke="#b09040" stroke-width="0.4"/>
<rect x="803" y="143.5" width="4.6" height="9.5" fill="#e8e8f0" stroke="#7a7a92" stroke-width="0.5"/>
<rect x="809.5" y="143.5" width="4.6" height="9.5" fill="#e8e8f0" stroke="#7a7a92" stroke-width="0.5"/>
<rect x="816" y="143.5" width="4.6" height="9.5" fill="#e8e8f0" stroke="#7a7a92" stroke-width="0.5"/>
<rect x="822.5" y="143.5" width="4.6" height="9.5" fill="#e8e8f0" stroke="#7a7a92" stroke-width="0.5"/>
<rect x="829" y="143.5" width="4.6" height="9.5" fill="#e8e8f0" stroke="#7a7a92" stroke-width="0.5"/>
<circle cx="803.5" cy="139" r="2.6" fill="#d84a3a" stroke="#8a2a20" stroke-width="0.4"/><circle cx="807" cy="137" r="2.4" fill="#e05a40" stroke="#8a2a20" stroke-width="0.4"/><circle cx="805.5" cy="141.5" r="2.2" fill="#c83a30" stroke="#8a2a20" stroke-width="0.4"/>
<circle cx="811" cy="137.5" r="2.2" fill="#e8e8d8" stroke="#7a8a60" stroke-width="0.4"/><path d="M812,142 l-1,-7 M813,142 l2,-6" stroke="#5a9a48" stroke-width="0.8"/>
<circle cx="817" cy="138" r="2.3" fill="#8a72cc" stroke="#4a3a88" stroke-width="0.4"/><circle cx="820" cy="140.5" r="2.1" fill="#7a62bc" stroke="#4a3a88" stroke-width="0.4"/>
<circle cx="823" cy="136.5" r="2.2" fill="#eab234" stroke="#9a7018" stroke-width="0.4"/><circle cx="826" cy="139" r="2.2" fill="#f0be40" stroke="#9a7018" stroke-width="0.4"/><circle cx="823.5" cy="141.5" r="2" fill="#e8a828" stroke="#9a7018" stroke-width="0.4"/>
<path d="M830,143 l-1.5,-10 M831.5,143 l0.5,-12 M833,143 l2,-10 M834,143 l3,-7" stroke="#4a8a3a" stroke-width="1.3" stroke-linecap="round"/>
<path d="M830,115 l1,1.6 l1,-1.6 l1,1.6 l1,-1.6" fill="none" stroke="#4e8e44" stroke-width="0.6"/>
<path d="M870,126.5 Q884,134 898,126.5" stroke="#8a6a4a" fill="none" stroke-width="0.8"/>
<ellipse cx="873" cy="134" rx="2.4" ry="3.1" fill="#f2d25c" stroke="#b89030" stroke-width="0.4"/>
<ellipse cx="878.5" cy="139" rx="2.4" ry="3.1" fill="#f2d25c" stroke="#b89030" stroke-width="0.4"/>
<ellipse cx="884" cy="139.5" rx="2.4" ry="3.1" fill="#f2d25c" stroke="#b89030" stroke-width="0.4"/>
<ellipse cx="889.5" cy="138.5" rx="2.4" ry="3.1" fill="#f2d25c" stroke="#b89030" stroke-width="0.4"/>
<ellipse cx="895" cy="134" rx="2.4" ry="3.1" fill="#f2d25c" stroke="#b89030" stroke-width="0.4"/>
<rect x="905" y="126.2" width="25" height="2.2" fill="#9a9aae"/>
<path d="M905.9,142 Q908.5,128 911.1,142Z" fill="#e8823a" stroke="#a8521a" stroke-width="0.4"/>
<path d="M911.9,142 Q914.5,128 917.1,142Z" fill="#e8823a" stroke="#a8521a" stroke-width="0.4"/>
<path d="M917.9,142 Q920.5,128 923.1,142Z" fill="#e8823a" stroke="#a8521a" stroke-width="0.4"/>
<path d="M923.9,142 Q926.5,128 929.1,142Z" fill="#e8823a" stroke="#a8521a" stroke-width="0.4"/>
<rect x="839.7" y="173.2" width="89.1" height="12.7" fill="#b4b9cc" stroke="#5a5e74" stroke-width="0.6"/>
<rect x="839.7" y="181.5" width="89.1" height="4.4" fill="#8e95ae"/>
<rect x="819" y="203.1" width="18.5" height="27.3" fill="#a2a6ba" stroke="#545870" stroke-width="0.6"/>
<rect x="820.6" y="204.6" width="15.3" height="4.2" fill="#f2f2f8"/>
<rect x="820.6" y="209.8" width="15.3" height="5.2" fill="url(#sh0)"/>
<rect x="820.6" y="216.2" width="15.3" height="6" fill="url(#sh)"/>
<rect x="820.6" y="223.6" width="15.3" height="5.6" fill="url(#sh2)"/>
<rect x="819" y="203.1" width="1.6" height="27.3" fill="#8a8ea6"/><rect x="835.9" y="203.1" width="1.6" height="27.3" fill="#8a8ea6"/>
<rect x="853.2" y="203.1" width="23.4" height="27.3" fill="#a2a6ba" stroke="#545870" stroke-width="0.6"/>
<rect x="854.8000000000001" y="204.6" width="20.2" height="4.2" fill="#f2f2f8"/>
<rect x="854.8000000000001" y="209.8" width="20.2" height="5.2" fill="url(#sh0)"/>
<rect x="854.8000000000001" y="216.2" width="20.2" height="6" fill="url(#sh)"/>
<rect x="854.8000000000001" y="223.6" width="20.2" height="5.6" fill="url(#sh2)"/>
<rect x="853.2" y="203.1" width="1.6" height="27.3" fill="#8a8ea6"/><rect x="875.0" y="203.1" width="1.6" height="27.3" fill="#8a8ea6"/>
<rect x="879.7" y="203.1" width="23.2" height="27.3" fill="#a2a6ba" stroke="#545870" stroke-width="0.6"/>
<rect x="881.3000000000001" y="204.6" width="20.0" height="4.2" fill="#f2f2f8"/>
<rect x="881.3000000000001" y="209.8" width="20.0" height="5.2" fill="url(#sh0)"/>
<rect x="881.3000000000001" y="216.2" width="20.0" height="6" fill="url(#sh)"/>
<rect x="881.3000000000001" y="223.6" width="20.0" height="5.6" fill="url(#sh2)"/>
<rect x="879.7" y="203.1" width="1.6" height="27.3" fill="#8a8ea6"/><rect x="901.3" y="203.1" width="1.6" height="27.3" fill="#8a8ea6"/>
<rect x="905.6" y="203.1" width="23.1" height="27.3" fill="#a2a6ba" stroke="#545870" stroke-width="0.6"/>
<rect x="907.2" y="204.6" width="19.9" height="4.2" fill="#f2f2f8"/>
<rect x="907.2" y="209.8" width="19.9" height="5.2" fill="url(#sh0)"/>
<rect x="907.2" y="216.2" width="19.9" height="6" fill="url(#sh)"/>
<rect x="907.2" y="223.6" width="19.9" height="5.6" fill="url(#sh2)"/>
<rect x="905.6" y="203.1" width="1.6" height="27.3" fill="#8a8ea6"/><rect x="927.1" y="203.1" width="1.6" height="27.3" fill="#8a8ea6"/>
<rect x="815" y="244.4" width="22.5" height="28.4" fill="#a8acc0" stroke="#545870" stroke-width="0.6"/>
<rect x="815" y="244.4" width="22.5" height="8.1" fill="#dedbec"/>
<rect x="816.6" y="254" width="19.3" height="15.5" fill="#c4cad8"/>
<rect x="818" y="256" width="7" height="3.5" rx="1" fill="#e4b894"/><rect x="827.5" y="256" width="7" height="3.5" rx="1" fill="#e49090"/><rect x="818" y="263" width="7" height="3.5" rx="1" fill="#e49090"/><rect x="827.5" y="263" width="7" height="3.5" rx="1" fill="#e4c094"/>
<rect x="815" y="269.5" width="22.5" height="3.3" fill="#d4d2e2"/>
<rect x="879.2" y="244.4" width="23.7" height="28.4" fill="#a8acc0" stroke="#545870" stroke-width="0.6"/>
<rect x="879.2" y="244.4" width="23.7" height="8.1" fill="#dedbec"/>
<rect x="880.8000000000001" y="254" width="20.5" height="15.5" fill="#c4cad8"/>
<rect x="882.2" y="256" width="7" height="3.5" rx="1" fill="#e4b894"/><rect x="892.9" y="256" width="7" height="3.5" rx="1" fill="#e49090"/><rect x="882.2" y="263" width="7" height="3.5" rx="1" fill="#e49090"/><rect x="892.9" y="263" width="7" height="3.5" rx="1" fill="#e4c094"/>
<rect x="879.2" y="269.5" width="23.7" height="3.3" fill="#d4d2e2"/>
<rect x="905.6" y="244.4" width="23.1" height="28.4" fill="#a8acc0" stroke="#545870" stroke-width="0.6"/>
<rect x="905.6" y="244.4" width="23.1" height="8.1" fill="#dedbec"/>
<rect x="907.2" y="254" width="19.9" height="15.5" fill="#c4cad8"/>
<rect x="908.6" y="256" width="7" height="3.5" rx="1" fill="#e4b894"/><rect x="918.7" y="256" width="7" height="3.5" rx="1" fill="#e49090"/><rect x="908.6" y="263" width="7" height="3.5" rx="1" fill="#e49090"/><rect x="918.7" y="263" width="7" height="3.5" rx="1" fill="#e4c094"/>
<rect x="905.6" y="269.5" width="23.1" height="3.3" fill="#d4d2e2"/>
<g transform="translate(854.5,188) scale(1.0)"><ellipse cx="5" cy="4" rx="4.6" ry="4.2" fill="#3a3434"/><rect x="2.2" y="3.6" width="5.6" height="4.2" rx="1" fill="#f0d0a8"/><rect x="1.8" y="1.8" width="6.4" height="2.4" fill="#3a3434"/><rect x="3" y="5" width="1" height="1" fill="#2a2020"/><rect x="6" y="5" width="1" height="1" fill="#2a2020"/><rect x="1.6" y="7.8" width="6.8" height="5" rx="1" fill="#2e2e34"/><rect x="0.6" y="8.3" width="1.6" height="4" rx="0.6" fill="#2e2e34" stroke="#222" stroke-width="0.3"/><rect x="7.8" y="8.3" width="1.6" height="4" rx="0.6" fill="#2e2e34" stroke="#222" stroke-width="0.3"/><rect x="2.6" y="12.6" width="2" height="2.6" fill="#26262c"/><rect x="5.4" y="12.6" width="2" height="2.6" fill="#26262c"/></g>
<g transform="translate(858.3,160.2)"><path d="M2,0 H50.2 Q52.2,0 52.2,2 V14.5 Q52.2,16.5 50.2,16.5 H18.6 L9.7,22.4 L9.4,16.5 H2 Q0,16.5 0,14.5 V2 Q0,0 2,0Z" fill="#fff" stroke="#161616" stroke-width="1.1"/><text x="4" y="11.3" font-family="Liberation Mono" font-weight="bold" font-size="9" fill="#2a2a2a">JL:</text><circle cx="32.7" cy="7.3" r="4.7" fill="#f6b63c"/><circle cx="30.8" cy="6.5" r="0.6" fill="#7a4a10"/><circle cx="34.6" cy="6.5" r="0.6" fill="#7a4a10"/><ellipse cx="29.5" cy="11" rx="2" ry="1.3" fill="#f09a30"/><ellipse cx="36" cy="11" rx="2" ry="1.3" fill="#f09a30"/></g>
</svg>
<div class="panel" style="left:602px;top:194px;width:217px;height:214.7px;border-radius:11px"></div>
<div class="mw" style="left:609.8px;top:203.1px;width:200.8px;height:196.5px"></div>
<svg class="mp" style="left:611.9px;top:205.1px" width="196.60" height="192.50" viewBox="-8.80 -13.10 196.60 192.50" preserveAspectRatio="none">
<rect x="-13.80" y="-18.10" width="206.60" height="202.50" fill="#b0f77f"/>
<use href="#outside"/><use href="#house"/>
<g transform="translate(15.3,118.8) scale(1.0)"><ellipse cx="5" cy="4" rx="4.6" ry="4.2" fill="#2a2a2a"/><rect x="2.2" y="3.6" width="5.6" height="4.2" rx="1" fill="#f0c8a0"/><rect x="1.8" y="1.8" width="6.4" height="2.4" fill="#2a2a2a"/><rect x="3" y="5" width="1" height="1" fill="#2a2020"/><rect x="6" y="5" width="1" height="1" fill="#2a2020"/><rect x="1.6" y="7.8" width="6.8" height="5" rx="1" fill="#4a4a3a"/><rect x="0.6" y="8.3" width="1.6" height="4" rx="0.6" fill="#4a4a3a" stroke="#222" stroke-width="0.3"/><rect x="7.8" y="8.3" width="1.6" height="4" rx="0.6" fill="#4a4a3a" stroke="#222" stroke-width="0.3"/><rect x="2.6" y="12.6" width="2" height="2.6" fill="#26262c"/><rect x="5.4" y="12.6" width="2" height="2.6" fill="#26262c"/></g>
<g transform="translate(115.3,137.8) scale(1.0)"><ellipse cx="5" cy="4" rx="4.6" ry="4.2" fill="#7a6050"/><rect x="2.2" y="3.6" width="5.6" height="4.2" rx="1" fill="#f0c8a0"/><rect x="1.8" y="1.8" width="6.4" height="2.4" fill="#7a6050"/><rect x="3" y="5" width="1" height="1" fill="#2a2020"/><rect x="6" y="5" width="1" height="1" fill="#2a2020"/><rect x="1.6" y="7.8" width="6.8" height="5" rx="1" fill="#3a8ac8"/><rect x="0.6" y="8.3" width="1.6" height="4" rx="0.6" fill="#3a8ac8" stroke="#222" stroke-width="0.3"/><rect x="7.8" y="8.3" width="1.6" height="4" rx="0.6" fill="#3a8ac8" stroke="#222" stroke-width="0.3"/><rect x="2.6" y="12.6" width="2" height="2.6" fill="#26262c"/><rect x="5.4" y="12.6" width="2" height="2.6" fill="#26262c"/></g>
<g transform="translate(18.3,92.2)"><path d="M2,0 H48.3 Q50.3,0 50.3,2 V12.8 Q50.3,14.8 48.3,14.8 H17.8 L12.5,19.8 L11.7,14.8 H2 Q0,14.8 0,12.8 V2 Q0,0 2,0Z" fill="#fff" stroke="#111" stroke-width="1.3"/><text x="3.6" y="10.5" font-family="Liberation Mono" font-weight="bold" font-size="8.6" fill="#2a2a2a">ML:</text><rect x="27" y="5.2" width="9.2" height="6.6" rx="1" fill="#7a4c32" stroke="#4a2a18" stroke-width="0.4"/><rect x="29.8" y="3.6" width="3.6" height="2" fill="none" stroke="#4a2a18" stroke-width="0.7"/><rect x="27" y="7.6" width="9.2" height="0.8" fill="#4a2a18"/></g>
<g transform="translate(119.3,111.7)"><path d="M2,0 H48.3 Q50.3,0 50.3,2 V12.8 Q50.3,14.8 48.3,14.8 H17.8 L12.5,19.8 L11.7,14.8 H2 Q0,14.8 0,12.8 V2 Q0,0 2,0Z" fill="#fff" stroke="#111" stroke-width="1.3"/><text x="3.6" y="10.5" font-family="Liberation Mono" font-weight="bold" font-size="8.6" fill="#2a2a2a">EL:</text><rect x="27" y="3.9" width="8.3" height="5.3" fill="#d8dae0"/><rect x="30.3" y="4.2" width="1.8" height="4.7" fill="#6a9ae0"/></g>
</svg>
<div class="t" style="left:208.6px;top:23.5px;font-size:16.5px;transform:scaleX(1.092)" id="t1">Morning routine</div>
<div class="t" style="left:507.3px;top:64.8px;font-size:16.5px;transform:scaleX(1.092)" id="t2">Catching up</div>
<div class="t" style="left:676.2px;top:169px;font-size:16.5px;transform:scaleX(1.10)" id="t3">Packing</div>
<div class="t" style="left:779.8px;top:75.6px;font-size:16.5px;transform:scaleX(1.08)" id="t4">Beginning workday</div>
<div class="t s" style="left:155.9px;top:210.4px;font-size:11px;transform:scaleX(1.098)" id="l1">Waking up</div>
<div class="t s" style="left:309.7px;top:210.6px;font-size:11px;transform:scaleX(1.078)" id="l2">Brushing teeth</div>
<div class="t s" style="left:166px;top:379.6px;font-size:11px;transform:scaleX(1.052)" id="l3">Taking a shower</div>
<div class="t s" style="left:324.9px;top:379.9px;font-size:11px;transform:scaleX(1.087)" id="l4">Cooking breakfast</div>
<svg class="ab" style="left:0;top:0" width="1080" height="561"><polygon points="75.6,429.4 946.7,429.4 964,442.1 946.7,454.8 75.6,454.8" fill="#afafaf"/><polygon points="951.1,429.4 978.6,429.4 995.9,442.1 978.6,454.8 951.1,454.8 968.4,442.1" fill="#afafaf"/><polygon points="983.1,429.4 1002,429.4 1018.6,442.1 1002,454.8 983.1,454.8 1000.4,442.1" fill="#afafaf"/><rect x="401.8" y="441.1" width="4.5" height="5.6" fill="#fff"/><rect x="415.6" y="441.1" width="4.5" height="5.6" fill="#fff"/><rect x="429.3" y="441.1" width="4.5" height="5.6" fill="#fff"/></svg>
<div class="tl" style="left:250.2px;top:435.7px;transform:scaleX(1.078)" id="d1">6:00 am</div>
<div class="tl" style="left:532.8px;top:435.7px;transform:scaleX(1.053)" id="d2">7:30 am</div>
<div class="tl" style="left:683.9px;top:435.7px;transform:scaleX(1.053)" id="d3">7:45 am</div>
<div class="tl" style="left:835.1px;top:435.7px;transform:scaleX(1.073)" id="d4">8:00 am</div>
<div class="cap" style="top:486.8px;letter-spacing:0.5px;word-spacing:0.69px" id="c1">Figure 3: A morning in the life of a generative agent, John Lin. John wakes up around 6 am and completes his morning routine,</div>
<div class="cap" style="top:508.5px;word-spacing:0.97px" id="c2">which includes brushing his teeth, taking a shower, and eating breakfast. He briefly catches up with his wife, Mei, and son,</div>
<div class="cap" style="top:530.8px" id="c3">Eddy, before heading out to begin his workday.</div>
<svg class="ab" style="left:0;top:0" width="1080" height="561"><ellipse cx="931" cy="506" rx="15" ry="12.5" fill="#fff" fill-opacity="0.72" stroke="#cfcfcf" stroke-width="0.9"/><circle cx="925.8" cy="501.6" r="1.1" fill="#fff" stroke="#777" stroke-width="0.7"/><circle cx="937.6" cy="501.6" r="1.1" fill="#fff" stroke="#777" stroke-width="0.7"/><path d="M957,527.5 L954,523.5 A12.8,11.4 0 1 0 951,526.5 Z" fill="#fff" fill-opacity="0.8" stroke="#666" stroke-width="0.9"/><circle cx="941.6" cy="511.6" r="1.1" fill="#fff" stroke="#777" stroke-width="0.7"/><circle cx="951" cy="511.6" r="1.1" fill="#fff" stroke="#777" stroke-width="0.7"/><g transform="translate(965.4,501.3)"><path d="M5.5,0.5 L6,2.2 M1,3.2 H10 M3,5 L4,8 M8.5,5 L7.5,8 M0,9.5 H11 M0,13.5 H11 M5.5,9.5 V24 M5.3,14.5 L0.5,21 M6,14.5 L10,19 M21.5,1 L14.5,4 M14.5,4 V13 Q14.5,20 12.5,24 M14.5,12 H23.5 M19,12 V24" fill="none" stroke="#8a8a8a" stroke-width="2.6" stroke-linecap="square"/><path d="M5.5,0.5 L6,2.2 M1,3.2 H10 M3,5 L4,8 M8.5,5 L7.5,8 M0,9.5 H11 M0,13.5 H11 M5.5,9.5 V24 M5.3,14.5 L0.5,21 M6,14.5 L10,19 M21.5,1 L14.5,4 M14.5,4 V13 Q14.5,20 12.5,24 M14.5,12 H23.5 M19,12 V24" fill="none" stroke="#fff" stroke-width="1.3" stroke-linecap="square"/></g><g transform="translate(992,501.3)"><path d="M2.5,0.5 L0.5,6 M1.5,3 H10.5 M0,7.5 H11.5 M6,3 Q5,9 0.5,12.5 M6.5,8 L11,12 M14,2 H22 V10 H14Z M5,13.5 H19 V24 H5Z M5,18.8 H19" fill="none" stroke="#8a8a8a" stroke-width="2.6" stroke-linecap="square"/><path d="M2.5,0.5 L0.5,6 M1.5,3 H10.5 M0,7.5 H11.5 M6,3 Q5,9 0.5,12.5 M6.5,8 L11,12 M14,2 H22 V10 H14Z M5,13.5 H19 V24 H5Z M5,18.8 H19" fill="none" stroke="#fff" stroke-width="1.3" stroke-linecap="square"/></g><g transform="translate(1018.8,501.3)"><path d="M3,3 H20 M0,10 H23 M8.5,10 Q8.5,19 1,24 M15,10 V21.5 Q15,23 17,23 H23.5 V19.5" fill="none" stroke="#8a8a8a" stroke-width="2.6" stroke-linecap="square"/><path d="M3,3 H20 M0,10 H23 M8.5,10 Q8.5,19 1,24 M15,10 V21.5 Q15,23 17,23 H23.5 V19.5" fill="none" stroke="#fff" stroke-width="1.3" stroke-linecap="square"/></g></svg>
</body></html>
